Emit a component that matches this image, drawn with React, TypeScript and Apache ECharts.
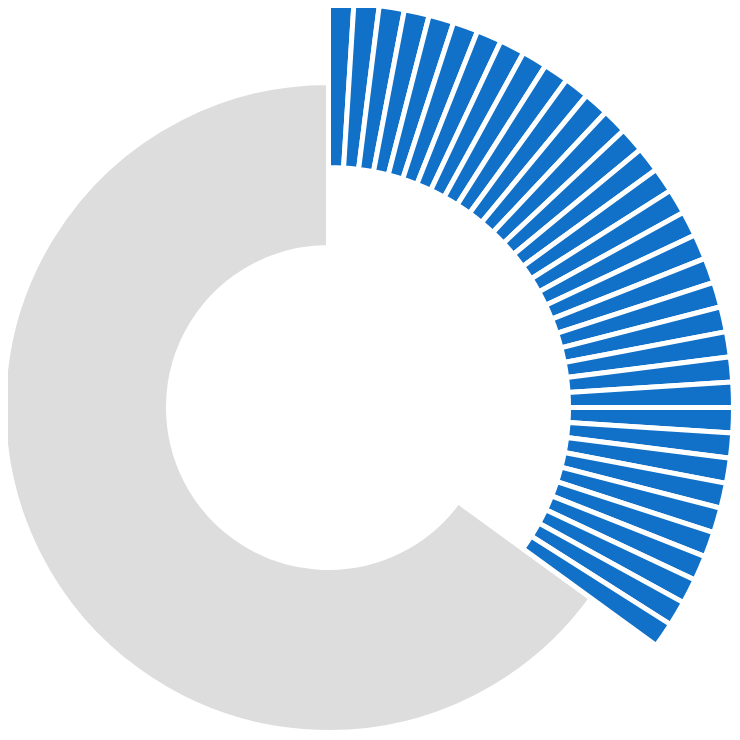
import React, { useEffect, useRef } from "react";
import * as echarts from "echarts";

// Progress segments (each segment = 1 unit out of 100)
const segmentValues: number[] = [
  1, 1, 1, 1, 1, 1, 1, 1, 1, 1,
  1, 1, 1, 1, 1, 1, 1, 1, 1, 1,
  1, 1, 1, 1, 1, 1, 1, 1, 1, 1,
  1, 1, 1, 1, 1,
];
// Remaining part of the ring
const remainingValue: number = 65;

const BLUE = "#1170c8";
const GRAY = "#dddddd";

export default function App() {
  const ref = useRef<HTMLDivElement>(null);

  useEffect(() => {
    if (!ref.current) return;
    const chart = echarts.init(ref.current, undefined, { renderer: "svg" });
    const doneTotal = segmentValues.reduce((a, b) => a + b, 0);
    const hidden = {
      itemStyle: { color: "transparent", borderWidth: 0 },
      emphasis: { disabled: true },
    };
    const center = [320.5, 399.5];
    chart.setOption({
      animation: false,
      backgroundColor: "#ffffff",
      series: [
        {
          type: "pie",
          silent: true,
          center,
          radius: [160, 325],
          startAngle: 90,
          clockwise: true,
          label: { show: false },
          labelLine: { show: false },
          itemStyle: { borderColor: "#ffffff", borderWidth: 5 },
          data: [
            { value: doneTotal, name: "done", ...hidden },
            { value: remainingValue, name: "remaining", itemStyle: { color: GRAY, borderColor: "#ffffff", borderWidth: 5 } },
          ],
        },
        {
          type: "pie",
          silent: true,
          center,
          radius: [240, 405],
          startAngle: 90,
          clockwise: true,
          label: { show: false },
          labelLine: { show: false },
          itemStyle: { borderColor: "#ffffff", borderWidth: 5 },
          data: [
            ...segmentValues.map((v, i) => ({
              value: v,
              name: "seg" + i,
              itemStyle: { color: BLUE, borderColor: "#ffffff", borderWidth: 5 },
            })),
            { value: remainingValue, name: "rest", ...hidden },
          ],
        },
      ],
    });
    return () => chart.dispose();
  }, []);

  return <div ref={ref} style={{ width: 724, height: 724 }} />;
}
